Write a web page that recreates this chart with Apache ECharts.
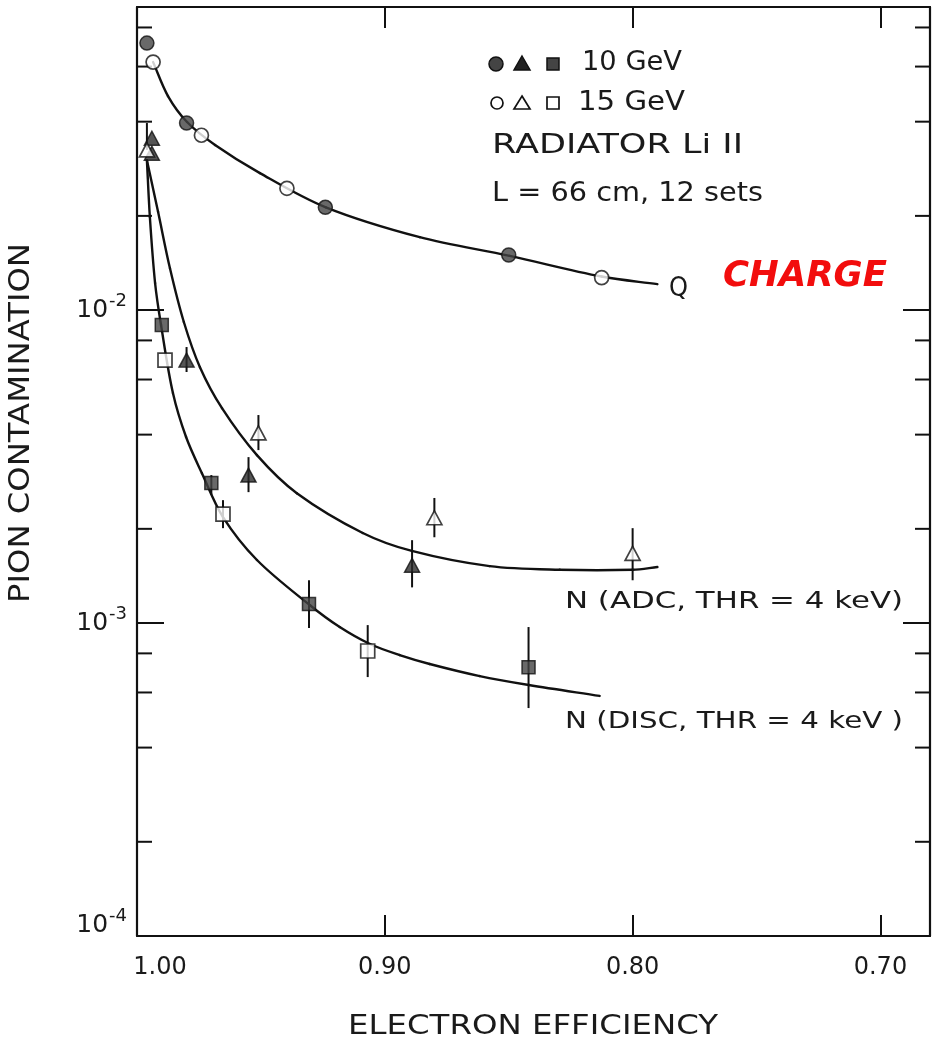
<!DOCTYPE html>
<html>
<head>
<meta charset="utf-8">
<script src="https://cdn.jsdelivr.net/npm/echarts@6/dist/echarts.min.js"></script>
<style>
  html, body { margin: 0; padding: 0; background: #ffffff; }
  #chart { width: 936px; height: 1057px; }
</style>
</head>
<body>
<div id="chart"></div>
<script>
// ---------------- data ----------------
// Q (charge) method: fitted curve and measured points
const qCurveX = [0.9935, 0.9875, 0.9798, 0.9685, 0.9504, 0.9238, 0.8859, 0.8496, 0.8125, 0.790];
const qCurveY = [0.0620, 0.0483, 0.0399, 0.0337, 0.0274, 0.0213, 0.0171, 0.0149, 0.0128, 0.0121];
const q10X = [0.996, 0.980, 0.924, 0.850];
const q10Y = [0.0713, 0.0396, 0.0213, 0.0150];
const q15X = [0.9935, 0.974, 0.9395, 0.8125];
const q15Y = [0.0620, 0.0362, 0.0245, 0.0127];

// N (ADC, THR = 4 keV)
const adcCurveX = [0.9960, 0.9915, 0.9867, 0.9811, 0.9746, 0.9657, 0.9516, 0.9355, 0.9089, 0.8891, 0.8577, 0.8294, 0.800, 0.790];
const adcCurveY = [0.0301, 0.0206, 0.0136, 0.00916, 0.00657, 0.00486, 0.00344, 0.00260, 0.00194, 0.00170, 0.00152, 0.00148, 0.00148, 0.00151];
const adc10X  = [0.994, 0.994, 0.980, 0.955, 0.889];
const adc10Y  = [0.0354, 0.0317, 0.00692, 0.00297, 0.00153];
const adc10Lo = [null, null, 0.00634, 0.00262, 0.00130];
const adc10Hi = [null, null, 0.00762, 0.00339, 0.00184];
const adc15X  = [0.996, 0.951, 0.880, 0.800];
const adc15Y  = [0.0325, 0.00405, 0.00217, 0.00167];
const adc15Lo = [0.0325, 0.00357, 0.00188, 0.00137];
const adc15Hi = [0.0396, 0.00462, 0.00251, 0.00201];

// N (DISC, THR = 4 keV)
const discCurveX = [0.9960, 0.9948, 0.9927, 0.9903, 0.9855, 0.9802, 0.9738, 0.9653, 0.9516, 0.9302, 0.9182, 0.9060, 0.8940, 0.8819, 0.8617, 0.8419, 0.8133];
const discCurveY = [0.0301, 0.0198, 0.0122, 0.00896, 0.00543, 0.00393, 0.00301, 0.00218, 0.00159, 0.00114, 0.000971, 0.000857, 0.000790, 0.000740, 0.000677, 0.000634, 0.000585];
const disc10X  = [0.990, 0.970, 0.9306, 0.842];
const disc10Y  = [0.00896, 0.00280, 0.00115, 0.000723];
const disc10Lo = [null, 0.00257, 0.000964, 0.000535];
const disc10Hi = [null, 0.00297, 0.00137, 0.000971];
const disc15X  = [0.9887, 0.9653, 0.9069];
const disc15Y  = [0.00692, 0.00223, 0.000814];
const disc15Lo = [null, 0.00201, 0.000672];
const disc15Hi = [null, 0.00247, 0.000985];

// axes
const xMin = 0.68, xMax = 1.00;
const yMin = 1e-4, yMax = 0.093;
const yMinorTicks = [2e-4, 4e-4, 6e-4, 8e-4, 2e-3, 4e-3, 6e-3, 8e-3, 2e-2, 4e-2, 6e-2, 8e-2];

// ---------------- helpers ----------------
const FONT = '"DejaVu Sans"';
const INK = '#1a1a1a';
const zip = (xs, ys) => xs.map((x, i) => [x, ys[i]]);
const bars = (xs, lo, hi) => xs.map((x, i) => [x, lo[i], hi[i]]).filter(r => r[1] != null && r[2] != null);

const mctx = document.createElement('canvas').getContext('2d');
function measure(font, text) { mctx.font = font; return mctx.measureText(text).width; }
function textEl(t) {
  const font = ((t.fstyle || '') + ' ' + (t.weight || '') + ' ' + t.size + 'px ' + FONT).trim();
  const sx = t.width / measure(font, t.text);
  const align = t.align || 'left';
  return {
    type: 'text', x: t.x, y: t.y, rotation: t.rot || 0, scaleX: sx, z: 20,
    style: { text: t.text, font: font, fill: t.color || INK,
             align: align, verticalAlign: 'middle', textAlign: align, textVerticalAlign: 'middle' }
  };
}

const filled = { color: '#444444', borderColor: '#111', borderWidth: 1.5 };
const open = { color: '#ffffff', borderColor: '#111', borderWidth: 1.7 };

// smooth curve through the read points: chord-length Hermite spline,
// with every point placed through the axes (api.coord)
function splineChildren(P, style) {
  const n = P.length, d = [];
  for (let i = 0; i < n - 1; i++) d.push(Math.hypot(P[i + 1][0] - P[i][0], P[i + 1][1] - P[i][1]) || 1e-6);
  const T = P.map((p, i) => {
    if (i === 0) return [(P[1][0] - P[0][0]) / d[0], (P[1][1] - P[0][1]) / d[0]];
    if (i === n - 1) return [(P[n - 1][0] - P[n - 2][0]) / d[n - 2], (P[n - 1][1] - P[n - 2][1]) / d[n - 2]];
    const s = d[i - 1] + d[i];
    return [(P[i + 1][0] - P[i - 1][0]) / s, (P[i + 1][1] - P[i - 1][1]) / s];
  });
  const out = [];
  for (let i = 0; i < n - 1; i++) {
    const k = d[i] / 3;
    out.push({ type: 'bezierCurve', shape: {
      x1: P[i][0], y1: P[i][1],
      cpx1: P[i][0] + T[i][0] * k, cpy1: P[i][1] + T[i][1] * k,
      cpx2: P[i + 1][0] - T[i + 1][0] * k, cpy2: P[i + 1][1] - T[i + 1][1] * k,
      x2: P[i + 1][0], y2: P[i + 1][1] }, style });
  }
  return out;
}
function curve(name, xs, ys) {
  return {
    name, type: 'custom', data: zip(xs, ys), encode: { x: 0, y: 1 }, z: 2, silent: true,
    renderItem: (params, api) => {
      if (params.dataIndex !== 0) return null;
      const P = xs.map((x, i) => api.coord([x, ys[i]]));
      return { type: 'group', children: splineChildren(P, { stroke: '#111', lineWidth: 2.4, fill: 'none', lineCap: 'round' }) };
    }
  };
}
function pts(name, xs, ys, symbol, size, style) {
  return { name, type: 'scatter', data: zip(xs, ys), symbol, symbolSize: size, itemStyle: style, z: 5 };
}
function errs(name, rows) {
  return {
    name, type: 'custom', data: rows, encode: { x: 0, y: [1, 2] }, z: 3, silent: true,
    renderItem: (params, api) => {
      const a = api.coord([api.value(0), api.value(1)]);
      const b = api.coord([api.value(0), api.value(2)]);
      return { type: 'line', shape: { x1: a[0], y1: a[1], x2: b[0], y2: b[1] },
               style: { stroke: '#111', lineWidth: 2 } };
    }
  };
}

const axisLineStyle = { color: '#111', width: 2.2 };
function xAx(pos, labels) {
  return {
    type: 'value', position: pos, min: xMin, max: xMax, inverse: true, splitNumber: 3,
    axisLine: { show: true, onZero: false, lineStyle: axisLineStyle },
    axisTick: { show: true, inside: true, length: 21, lineStyle: { color: '#111', width: 2 } },
    splitLine: { show: false },
    axisLabel: labels ? {
      show: true, margin: 20, fontFamily: FONT, fontSize: 24, color: INK,
      formatter: v => {
        if (Math.abs(v - xMin) < 1e-6) return '';
        const r = Math.round(v * 100) / 100;
        if (Math.abs(r - 1) < 1e-6) return '{l|1.00}';
        return r.toFixed(2);
      },
      rich: { l: { fontFamily: FONT, fontSize: 24, color: INK, padding: [0, 0, 0, 46] } }
    } : { show: false }
  };
}
function yAx(pos, labels) {
  return {
    type: 'log', logBase: 10, position: pos, min: yMin, max: yMax,
    axisLine: { show: true, onZero: false, lineStyle: axisLineStyle },
    axisTick: { show: true, inside: true, length: 27, lineStyle: { color: '#111', width: 2 } },
    minorTick: { show: false },
    splitLine: { show: false },
    axisLabel: labels ? {
      show: true, margin: 10, color: INK, fontFamily: FONT, fontSize: 25,
      formatter: v => {
        const e = Math.log10(v), r = Math.round(e);
        if (Math.abs(e - r) > 1e-6) return '';
        if (r === -4) return '{b4|10}{s4|' + r + '}';
        return '{b|10}{s|' + r + '}';
      },
      rich: {
        b:  { fontFamily: FONT, fontSize: 25, color: INK },
        s:  { fontFamily: FONT, fontSize: 18, color: INK, padding: [0, 0, 18, 1] },
        b4: { fontFamily: FONT, fontSize: 25, color: INK, padding: [0, 0, 22, 0] },
        s4: { fontFamily: FONT, fontSize: 18, color: INK, padding: [0, 0, 40, 1] }
      }
    } : { show: false }
  };
}

// minor ticks on the log axis (2,4,6,8 x 10^n), placed through the axis scale
const minorTickSeries = {
  name: 'minorTicks', type: 'custom', silent: true, z: 1,
  data: yMinorTicks.map(v => [xMax, v]), encode: { x: 0, y: 1 }, clip: false,
  renderItem: (params, api) => {
    const v = api.value(1);
    const L = api.coord([xMax, v]);
    const R = api.coord([xMin, v]);
    const st = { stroke: '#111', lineWidth: 2 };
    return { type: 'group', children: [
      { type: 'line', shape: { x1: L[0], y1: L[1], x2: L[0] + 15, y2: L[1] }, style: st },
      { type: 'line', shape: { x1: R[0] - 15, y1: R[1], x2: R[0], y2: R[1] }, style: st }
    ] };
  }
};

// ---------------- annotations ----------------
const texts = [
  { text: '10 GeV', x: 582, y: 63, width: 100, size: 26 },
  { text: '15 GeV', x: 578, y: 103, width: 107, size: 26 },
  { text: 'RADIATOR Li II', x: 492, y: 146, width: 251, size: 27 },
  { text: 'L = 66 cm, 12 sets', x: 492, y: 194, width: 271, size: 27 },
  { text: 'Q', x: 669, y: 289, width: 19, size: 26 },
  { text: 'CHARGE', x: 723, y: 277, width: 164, size: 36, weight: 'bold', fstyle: 'italic', color: '#f20d0d' },
  { text: 'N (ADC, THR = 4 keV)', x: 565, y: 602, width: 338, size: 23 },
  { text: 'N (DISC, THR = 4 keV )', x: 565, y: 722, width: 338, size: 23 },
  { text: 'PION CONTAMINATION', x: 22, y: 423, width: 360, size: 28, rot: Math.PI / 2, align: 'center' },
  { text: 'ELECTRON EFFICIENCY', x: 533, y: 1027, width: 370, size: 27, align: 'center' }
];
const legendMarks = [
  { type: 'circle', shape: { cx: 496, cy: 64, r: 7 }, style: { fill: '#444', stroke: '#111', lineWidth: 1.5 } },
  { type: 'polygon', shape: { points: [[522, 56], [530, 70], [514, 70]] }, style: { fill: '#222', stroke: '#111', lineWidth: 1.5 } },
  { type: 'rect', shape: { x: 547, y: 58, width: 12, height: 12 }, style: { fill: '#444', stroke: '#111', lineWidth: 1.5 } },
  { type: 'circle', shape: { cx: 497, cy: 103, r: 6 }, style: { fill: '#fff', stroke: '#111', lineWidth: 1.7 } },
  { type: 'polygon', shape: { points: [[522, 96], [530, 109], [514, 109]] }, style: { fill: '#fff', stroke: '#111', lineWidth: 1.7 } },
  { type: 'rect', shape: { x: 547, y: 97, width: 12, height: 12 }, style: { fill: '#fff', stroke: '#111', lineWidth: 1.7 } }
].map(e => Object.assign({ z: 20 }, e));

// ---------------- chart ----------------
const chart = echarts.init(document.getElementById('chart'), null, { renderer: 'canvas' });
chart.setOption({
  backgroundColor: '#ffffff',
  animation: false,
  grid: { left: 137, right: 6, top: 7, bottom: 121, containLabel: false },
  xAxis: [xAx('bottom', true), xAx('top', false)],
  yAxis: [yAx('left', true), yAx('right', false)],
  series: [
    minorTickSeries,
    curve('Q', qCurveX, qCurveY),
    curve('N (ADC)', adcCurveX, adcCurveY),
    curve('N (DISC)', discCurveX, discCurveY),
    errs('ADC 10 GeV err', bars(adc10X, adc10Lo, adc10Hi)),
    errs('ADC 15 GeV err', bars(adc15X, adc15Lo, adc15Hi)),
    errs('DISC 10 GeV err', bars(disc10X, disc10Lo, disc10Hi)),
    errs('DISC 15 GeV err', bars(disc15X, disc15Lo, disc15Hi)),
    pts('Q 10 GeV', q10X, q10Y, 'circle', 14, filled),
    pts('Q 15 GeV', q15X, q15Y, 'circle', 14, open),
    pts('ADC 10 GeV', adc10X, adc10Y, 'triangle', [15, 14], Object.assign({}, filled, { color: '#2a2a2a' })),
    pts('ADC 15 GeV', adc15X, adc15Y, 'triangle', [15, 14], open),
    pts('DISC 10 GeV', disc10X, disc10Y, 'rect', 13, filled),
    pts('DISC 15 GeV', disc15X, disc15Y, 'rect', 14, open)
  ],
  graphic: { elements: texts.map(textEl).concat(legendMarks) }
});
</script>
</body>
</html>
